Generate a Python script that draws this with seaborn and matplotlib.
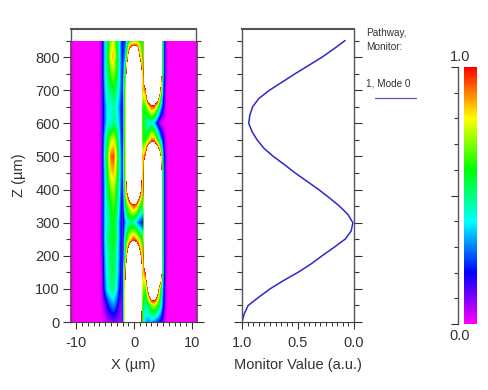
import numpy as np
import pandas as pd
import seaborn as sns
import matplotlib
matplotlib.use("Agg")
import matplotlib.pyplot as plt
from matplotlib.colors import LinearSegmentedColormap
from matplotlib.patches import Rectangle
from matplotlib.ticker import MultipleLocator

W = 1.6  # above colour range: drawn white
x_um = [-6, -5.5, -5, -4.5, -4, -3.5, -3, -2.5, -2, -1.5, -1, -.5, 0, .5, 1, 1.5, 2, 2.5, 3, 3.5, 4, 4.5, 5, 5.5, 6]
z_850 = [0, .1, .4, .55, .7, .78, .6, .4, .2, .25, .55, .6, .65, .65, .6, .6, W, W, W, W, W, W, .4, .05, 0]
z_800 = [0, .1, .4, .55, .8, .85, .65, .42, .2, .35, 1.0, W, W, W, .9, .6, W, W, W, W, W, W, .4, .05, 0]
z_750 = [0, .1, .4, .52, .65, .72, .6, .42, .2, .55, W, W, W, W, W, .7, W, W, W, W, W, W, .4, .05, 0]
z_700 = [0, .1, .35, .48, .52, .58, .5, .38, .2, .7, W, W, W, W, W, .8, .95, W, W, W, W, 1.0, .3, .03, 0]
z_650 = [0, .1, .3, .42, .42, .48, .42, .32, .15, .7, W, W, W, W, W, .6, .65, .8, .95, .95, .75, .45, .2, .02, 0]
z_600 = [0, .1, .3, .42, .42, .5, .45, .35, .15, .7, W, W, W, W, W, .6, .5, .42, .45, .35, .2, .05, 0, 0, 0]
z_550 = [0, .1, .4, .58, .72, .78, .65, .42, .15, .7, W, W, W, W, W, .6, .6, .7, .9, .9, .65, .4, .2, .02, 0]
z_500 = [0, .1, .45, .68, .92, .95, .75, .45, .2, .75, W, W, W, W, W, .8, 1.0, W, W, W, W, 1.1, .35, .05, 0]
z_450 = [0, .1, .4, .62, .82, .85, .7, .45, .2, .7, W, W, W, W, W, .7, W, W, W, W, W, W, .4, .05, 0]
z_400 = [0, .1, .38, .55, .68, .75, .6, .42, .15, .7, 1.2, W, W, W, 1.2, .7, W, W, W, W, W, W, .4, .05, 0]
z_350 = [0, .1, .38, .5, .58, .65, .55, .38, .1, .55, .72, .85, .95, .85, .65, .5, W, W, W, W, W, W, .4, .05, 0]
z_300 = [0, .1, .38, .45, .55, .6, .5, .32, .1, .32, .45, .5, .45, .35, .25, .2, W, W, W, W, W, W, .4, .05, 0]
z_250 = [0, .1, .38, .5, .55, .6, .5, .32, .1, .5, .72, .85, .95, .85, .7, .55, W, W, W, W, W, W, .4, .05, 0]
z_200 = [0, .08, .35, .45, .55, .55, .45, .3, .1, .6, 1.2, W, W, W, 1.1, .7, W, W, W, W, W, W, .4, .05, 0]
z_150 = [0, .05, .32, .45, .52, .55, .45, .28, .1, .9, W, W, W, W, W, .8, 1.0, W, W, W, W, W, .4, .04, 0]
z_100 = [0, .05, .28, .42, .48, .5, .4, .22, .1, 1.0, W, W, W, W, W, .7, .65, 1.1, W, W, 1.2, .7, .3, .03, 0]
z_050 = [0, .03, .1, .2, .28, .32, .25, .12, .08, 1.0, W, W, W, W, W, .6, .45, .55, .7, .75, .65, .5, .25, .03, 0]
z_000 = [0, 0, .02, .05, .08, .1, .08, .06, .08, 1.0, W, W, W, W, W, .5, .35, .3, .35, .3, .25, .2, .1, 0, 0]
field_rows = [z_000, z_050, z_100, z_150, z_200, z_250, z_300, z_350, z_400, z_450,
              z_500, z_550, z_600, z_650, z_700, z_750, z_800, z_850]

monitor_z = [0, 25, 50, 75, 100, 125, 150, 175, 200, 225, 250, 275, 300, 325, 350, 375, 400, 425,
             450, 475, 500, 525, 550, 575, 600, 625, 650, 675, 700, 725, 750, 775, 800, 825, 850]
monitor_v = [1.0, .98, .945, .85, .75, .63, .50, .385, .285, .18, .08, .025, .01, .055, .13, .22, .315, .42,
             .525, .62, .72, .805, .865, .91, .94, .93, .905, .85, .755, .64, .525, .405, .285, .18, .08]

colour_stops = ["#ff00ff", "#0000ff", "#00ffff", "#00ff00", "#ffff00", "#ff0000"]
TXT = "#333333"
LINE = "#555555"

sns.set_theme(style="white")
plt.rcParams["font.family"] = ["Liberation Sans", "DejaVu Sans"]
plt.rcParams["text.color"] = TXT
plt.rcParams["axes.labelcolor"] = TXT
plt.rcParams["axes.unicode_minus"] = False

cmap = LinearSegmentedColormap.from_list("rainbow6", colour_stops, N=256).copy()
cmap.set_over("white")

FW, FH = 488, 390
fig = plt.figure(figsize=(FW / 100, FH / 100), dpi=100, facecolor="white")


def axes_px(l, t, r, b):
    return fig.add_axes([l / FW, 1 - b / FH, (r - l) / FW, (b - t) / FH])


def style_ticks(ax):
    for s in ("left", "right"):
        ax.spines[s].set_color(LINE)
        ax.spines[s].set_linewidth(1.0)
    ax.spines["top"].set_color(LINE)
    ax.spines["top"].set_linewidth(1.5)
    ax.spines["bottom"].set_color("#444444")
    ax.spines["bottom"].set_linewidth(0.8)
    ax.yaxis.set_major_locator(MultipleLocator(100))
    ax.yaxis.set_minor_locator(MultipleLocator(50))
    ax.tick_params(axis="y", which="major", left=True, right=True, length=6, width=0.8,
                   color="#333333", labelsize=10.5, labelcolor=TXT, pad=2)
    ax.tick_params(axis="y", which="minor", left=True, right=True, length=3.5, width=0.8, color="#333333")
    ax.tick_params(axis="x", which="major", bottom=True, length=5, width=0.8,
                   color="#333333", labelsize=10.5, labelcolor=TXT, pad=5)
    ax.tick_params(axis="x", which="minor", bottom=True, length=3, width=0.7, color="#333333")
    ax.set_ylim(0, 885)


# Field panel
ax1 = axes_px(71, 29, 196, 322)
grid = np.pad(np.array(field_rows, dtype=float), ((0, 0), (10, 10)))
step = x_um[1] - x_um[0]
x0, x1 = x_um[0] - 10 * step, x_um[-1] + 10 * step
im = ax1.imshow(grid, origin="lower", aspect="auto", cmap=cmap, vmin=0, vmax=1,
                interpolation="bilinear", interpolation_stage="data",
                extent=[x0 - step / 2, x1 + step / 2, -25, 875])
im.set_clip_path(Rectangle((x0, 0), x1 - x0, 850, transform=ax1.transData))
ax1.set_xlim(-10.9, 10.7)
ax1.xaxis.set_major_locator(MultipleLocator(10))
ax1.xaxis.set_minor_locator(MultipleLocator(1))
style_ticks(ax1)
ax1.set_xlabel("X (µm)", fontsize=10.5, labelpad=6)
ax1.set_ylabel("Z (µm)", fontsize=10.5, labelpad=7)

# Monitor panel
ax2 = axes_px(242, 29, 354, 322)
profile = pd.DataFrame({"value": monitor_v, "z": monitor_z})
sns.lineplot(data=profile, x="value", y="z", orient="y", sort=False, estimator=None,
             color="#2a2acc", lw=1.1, ax=ax2)
ax2.set_xlim(1.0, 0.0)
ax2.xaxis.set_major_locator(MultipleLocator(0.5))
ax2.xaxis.set_minor_locator(MultipleLocator(0.05))
style_ticks(ax2)
ax2.set_xticks([1.0, 0.5, 0.0], ["1.0", "0.5", "0.0"])
ax2.tick_params(axis="y", labelleft=False)
ax2.set_xlabel("Monitor Value (a.u.)", fontsize=10.5, labelpad=6)
ax2.set_ylabel("")

# Legend text
fig.text(366 / FW, 1 - 33 / FH, "Pathway,", fontsize=7.2, va="center", ha="left")
fig.text(366 / FW, 1 - 47 / FH, "Monitor:", fontsize=7.2, va="center", ha="left")
fig.text(366 / FW, 1 - 84 / FH, "1, Mode 0", fontsize=7.2, va="center", ha="left")
fig.add_artist(plt.Line2D([375 / FW, 416 / FW], [1 - 98 / FH] * 2, color="#5a5ab0", lw=0.9))

# Colour bar
ax3 = axes_px(464, 67, 477, 324)
levels = np.linspace(1, 0, 256).reshape(-1, 1)
sns.heatmap(levels, cmap=cmap, vmin=0, vmax=1, cbar=False, xticklabels=False,
            yticklabels=False, ax=ax3)
ax3.set_ylim(256, 0)
for s in ("top", "right", "bottom"):
    ax3.spines[s].set_visible(False)
ax3.spines["left"].set_visible(True)
ax3.spines["left"].set_position(("outward", 4.5))
ax3.spines["left"].set_color(LINE)
ax3.spines["left"].set_linewidth(1.0)
ax3.set_yticks([0, 128, 256], ["", "", ""])
ax3.set_yticks(np.linspace(0, 256, 11), minor=True)
ax3.tick_params(axis="y", which="major", left=True, length=5, width=0.8, color="#333333")
ax3.tick_params(axis="y", which="minor", left=True, length=3, width=0.8, color="#333333")
fig.text(460 / FW, 1 - 57 / FH, "1.0", fontsize=10.5, ha="center", va="center")
fig.text(460 / FW, 1 - 336 / FH, "0.0", fontsize=10.5, ha="center", va="center")

fig.savefig("out.png", dpi=100)
